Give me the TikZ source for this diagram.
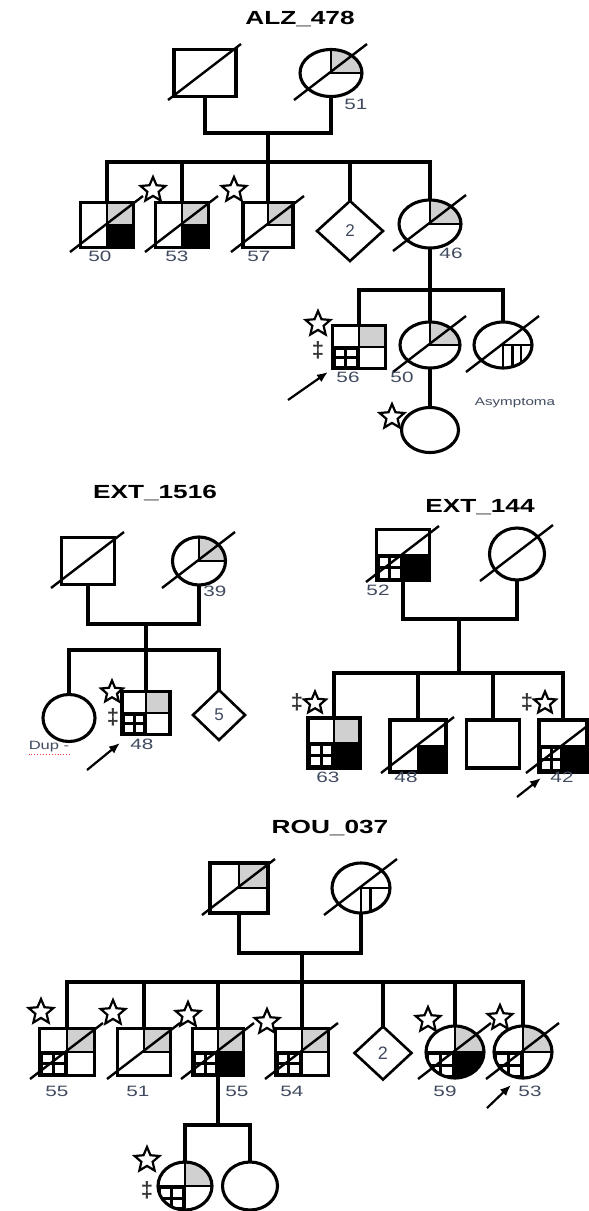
\documentclass[tikz,border=0pt]{standalone}
\usepackage{fontspec}
\setmainfont{Liberation Sans}
\usepackage{graphicx}
\usetikzlibrary{shapes.geometric,arrows.meta}

\definecolor{lblc}{RGB}{65,75,95}
\definecolor{qgray}{RGB}{208,208,208}

\newcommand\hs[1]{\scalebox{1.38}[1]{#1}}
\newcommand\qUR[1]{\filldraw[fill=#1,qline] (0,0) rectangle (\qw,-\qh);}
\newcommand\qLR[1]{\filldraw[fill=#1,qline] (0,0) rectangle (\qw,\qh);}
\newcommand\qGrid{\filldraw[fill=black,qline] (0,0) rectangle (-\qw,\qh);
  \pgfmathsetmacro\cw{(\qw-9)/2}\pgfmathsetmacro\ch{(\qh-9)/2}
  \fill[white] ({-\qw+3},3) rectangle ++(\cw,\ch);
  \fill[white] ({-\qw+6+\cw},3) rectangle ++(\cw,\ch);
  \fill[white] ({-\qw+3},{6+\ch}) rectangle ++(\cw,\ch);
  \fill[white] ({-\qw+6+\cw},{6+\ch}) rectangle ++(\cw,\ch);}
\newcommand\qStripes[1]{\draw[qline] (0,0) rectangle (\qw,\qh);
  \foreach \k in {#1} {\draw[qline] ({\qw*\k},0) -- ({\qw*\k},\qh);}}

% square person: name, x, y, width, height, fills
\newcommand\PSq[6]{%
  \pgfmathsetmacro\qw{#4/2}\pgfmathsetmacro\qh{#5/2}%
  \begin{scope}[shift={(#2,#3)}]\clip (-\qw,-\qh) rectangle (\qw,\qh); #6\end{scope}%
  \node[sqsym,minimum width=#4,minimum height=#5] (#1) at (#2,#3) {};}
% circle person
\newcommand\PCi[6]{%
  \pgfmathsetmacro\qw{#4/2}\pgfmathsetmacro\qh{#5/2}%
  \begin{scope}[shift={(#2,#3)}]\clip (0,0) ellipse [x radius=\qw, y radius=\qh]; #6\end{scope}%
  \node[cisym,minimum width=#4,minimum height=#5] (#1) at (#2,#3) {};}
% deceased diagonal
\newcommand\PDg[1]{\draw[diag] ([shift={(-37,27)}]#1.center) -- ([shift={(36,-29)}]#1.center);}

\begin{document}
\begin{tikzpicture}[x=1pt,y=-1pt,
  sym/.style={draw=black,line width=3.1pt,inner sep=0pt,outer sep=0pt},
  sqsym/.style={sym,rectangle},
  cisym/.style={sym,ellipse},
  dmsym/.style={sym,diamond,line width=2.6pt,font=\fontsize{17}{17}\selectfont,text=lblc},
  conn/.style={line width=3.1pt},
  diag/.style={line width=2.4pt},
  qline/.style={draw=black,line width=2.5pt},
  starsym/.style={star,star points=5,star point ratio=2.2,draw=black,fill=white,line width=2.2pt,minimum size=26pt,inner sep=0pt},
  lbl/.style={font=\fontsize{15}{15}\selectfont,text=lblc,inner sep=0pt},
  ttl/.style={font=\fontsize{19}{19}\selectfont\bfseries,inner sep=0pt},
  dag/.style={font=\fontsize{22}{22}\selectfont\bfseries,text=black!80,inner sep=0pt},
  smalltxt/.style={font=\fontsize{11}{11}\selectfont,text=lblc,inner sep=0pt},
  arr/.style={line width=2.2pt,-{Latex[length=11pt,width=9pt]}}]
\fill[white] (0,0) rectangle (589,1211);
\useasboundingbox (0,0) rectangle (589,1211);

% ================= ALZ_478 =================
\node[ttl] (tA) at (300,19) {\hs{ALZ\_478}};
\PSq{aF}{205}{73}{62}{47}{}
\PDg{aF}
\PCi{aM}{331}{73}{62}{47}{\qUR{qgray}}
\PDg{aM}
\node[lbl] (laM) at (356,104) {\hs{51}};
\coordinate (aC) at (268,133);
\draw[conn] (aF.south) |- (aC) -| (aM.south);
\coordinate (aS) at (268,162);

\PSq{a1}{107}{225}{53}{45}{\qUR{qgray}\qLR{black}}
\PDg{a1}
\PSq{a2}{182}{225}{53}{45}{\qUR{qgray}\qLR{black}}
\PDg{a2}
\PSq{a3}{268}{225}{50}{45}{\qUR{qgray}}
\PDg{a3}
\node[dmsym,minimum width=66,minimum height=60] (a4) at (350,231) {2};
\PCi{a5}{430}{224}{62}{48}{\qUR{qgray}}
\PDg{a5}
\draw[conn] (aC) -- (a3.north);
\draw[conn] (a1.north) |- (aS) -| (a5.north);
\draw[conn] (a2.north) -- (a2.north |- aS);
\draw[conn] (a4.north) -- (a4.north |- aS);
\node[starsym] (sa2) at (153,190) {};
\node[starsym] (sa3) at (234,190) {};
\node[lbl] (la1) at (100,256) {\hs{50}};
\node[lbl] (la2) at (177,256) {\hs{53}};
\node[lbl] (la3) at (259,256) {\hs{57}};
\node[lbl] (la5) at (451,253) {\hs{46}};

\coordinate (aS2) at (430,290);
\PSq{g1}{359}{347}{53}{43}{\qUR{qgray}\qGrid}
\PCi{g2}{430}{345}{60}{46}{\qUR{qgray}}
\PDg{g2}
\PCi{g3}{503}{345}{58}{46}{\qStripes{0.33,0.62}}
\PDg{g3}
\PCi{g4}{430}{430}{57}{45}{}
\draw[conn] (a5.south) -- (g2.north);
\draw[conn] (g1.north) |- (aS2) -| (g3.north);
\draw[conn] (g2.south) -- (g4.north);
\node[starsym] (sg1) at (318,324) {};
\node[dag] (dg1) at (318,350) {\textdaggerdbl};
\node[starsym] (sg4) at (392,417) {};
\node[lbl] (lg1) at (348,377) {\hs{56}};
\node[lbl] (lg2) at (402,377) {\hs{50}};
\node[smalltxt] (lg3) at (515,403) {\hs{Asymptoma}};
\coordinate (ag0) at (288,400);
\coordinate (ag1) at (328,372);
\draw[arr] (ag0) -- (ag1);

% ================= EXT_1516 =================
\node[ttl] (tE) at (155,493) {\hs{EXT\_1516}};
\PSq{eF}{88}{561}{53}{47}{}
\PDg{eF}
\PCi{eM}{199}{561}{53}{48}{\qUR{qgray}}
\PDg{eM}
\node[lbl] (leM) at (215,591) {\hs{39}};
\coordinate (eC) at (146,624);
\draw[conn] (eF.south) |- (eC) -| (eM.south);
\coordinate (eS) at (146,650);
\PCi{e1}{69}{718}{52}{47}{}
\PSq{e2}{146}{713}{48}{43}{\qUR{qgray}\qGrid}
\node[dmsym,minimum width=52,minimum height=50] (e3) at (219,715) {5};
\draw[conn] (eC) -- (e2.north);
\draw[conn] (e1.north) |- (eS) -| (e3.north);
\node[starsym,minimum size=23pt] (se2) at (112,692) {};
\node[dag] (de2) at (113,717) {\textdaggerdbl};
\node[lbl] (le2) at (142,744) {\hs{48}};
\node[smalltxt,font=\fontsize{12}{12}\selectfont] (le1) at (49,747) {\hs{Dup -}};
\draw[red!75,line width=0.9pt,dotted] ([yshift=-2pt]le1.south west) -- ([yshift=-2pt]le1.south east);
\coordinate (ae0) at (87,770);
\coordinate (ae1) at (120,743);
\draw[arr] (ae0) -- (ae1);

% ================= EXT_144 =================
\node[ttl] (tX) at (480,507) {\hs{EXT\_144}};
\PSq{xF}{403}{555}{53}{51}{\qLR{black}\qGrid}
\PDg{xF}
\PCi{xM}{517}{554}{55}{52}{}
\PDg{xM}
\node[lbl] (lxF) at (378,590) {\hs{52}};
\coordinate (xC) at (459,619);
\draw[conn] (xF.south) |- (xC) -| (xM.south);
\coordinate (xS) at (459,673);
\draw[conn] (xC) -- (xS);
\PSq{x1}{334}{743}{52}{50}{\qUR{qgray}\qLR{black}\qGrid}
\PSq{x2}{418}{746}{56}{52}{\qLR{black}}
\PDg{x2}
\PSq{x3}{493}{744}{53}{48}{}
\PSq{x4}{563}{746}{48}{52}{\qLR{black}\qGrid}
\PDg{x4}
\draw[conn] (x1.north) |- (xS) -| (x4.north);
\draw[conn] (x2.north) -- (x2.north |- xS);
\draw[conn] (x3.north) -- (x3.north |- xS);
\node[starsym,minimum size=23pt] (sx1) at (315,703) {};
\node[dag] (dx1) at (297,702) {\textdaggerdbl};
\node[starsym,minimum size=23pt] (sx4) at (545,703) {};
\node[dag] (dx4) at (527,702) {\textdaggerdbl};
\node[lbl] (lx1) at (328,777) {\hs{63}};
\node[lbl] (lx2) at (406,777) {\hs{48}};
\node[lbl] (lx4) at (562,777) {\hs{42}};
\coordinate (ax0) at (517,797);
\coordinate (ax1) at (541,778);
\draw[arr] (ax0) -- (ax1);

% ================= ROU_037 =================
\node[ttl] (tR) at (330,828) {\hs{ROU\_037}};
\PSq{rF}{239}{888}{58}{50}{\qUR{qgray}}
\PDg{rF}
\PCi{rM}{361}{888}{58}{50}{\qStripes{0.33}}
\PDg{rM}
\coordinate (rC) at (302,953);
\draw[conn] (rF.south) |- (rC) -| (rM.south);
\coordinate (rS) at (302,982);
\PSq{r1}{67}{1052}{55}{47}{\qUR{qgray}\qGrid}
\PDg{r1}
\PSq{r2}{144}{1052}{53}{47}{\qUR{qgray}}
\PDg{r2}
\PSq{r3}{218}{1052}{51}{47}{\qUR{qgray}\qLR{black}\qGrid}
\PDg{r3}
\PSq{r4}{302}{1052}{53}{47}{\qUR{qgray}\qGrid}
\PDg{r4}
\node[dmsym,minimum width=57,minimum height=53,font=\fontsize{18}{18}\selectfont] (r5) at (383,1053) {2};
\PCi{r6}{455}{1052}{58}{52}{\qUR{qgray}\qLR{black}\qGrid}
\PDg{r6}
\PCi{r7}{523}{1052}{58}{52}{\qUR{qgray}\qGrid}
\PDg{r7}
\draw[conn] (rC) -- (r4.north);
\draw[conn] (r1.north) |- (rS) -| (r7.north);
\draw[conn] (r2.north) -- (r2.north |- rS);
\draw[conn] (r3.north) -- (r3.north |- rS);
\draw[conn] (r5.north) -- (r5.north |- rS);
\draw[conn] (r6.north) -- (r6.north |- rS);
\node[starsym] (sr1) at (41,1012) {};
\node[starsym] (sr2) at (113,1013) {};
\node[starsym] (sr3) at (188,1015) {};
\node[starsym] (sr4) at (267,1022) {};
\node[starsym] (sr6) at (428,1020) {};
\node[starsym] (sr7) at (500,1018) {};
\node[lbl] (lr1) at (57,1091) {\hs{55}};
\node[lbl] (lr2) at (138,1091) {\hs{51}};
\node[lbl] (lr3) at (237,1091) {\hs{55}};
\node[lbl] (lr4) at (292,1091) {\hs{54}};
\node[lbl] (lr6) at (445,1091) {\hs{59}};
\node[lbl] (lr7) at (530,1091) {\hs{53}};
\coordinate (ar0) at (487,1108);
\coordinate (ar1) at (511,1085);
\draw[arr] (ar0) -- (ar1);

\coordinate (qS) at (218,1125);
\PCi{q1}{185}{1186}{54}{48}{\qUR{qgray}\qGrid}
\PCi{q2}{250}{1186}{55}{48}{}
\draw[conn] (r3.south) -- (qS);
\draw[conn] (q1.north) |- (qS) -| (q2.north);
\node[starsym] (sq1) at (147,1160) {};
\node[dag] (dq1) at (147,1190) {\textdaggerdbl};
\end{tikzpicture}
\end{document}
